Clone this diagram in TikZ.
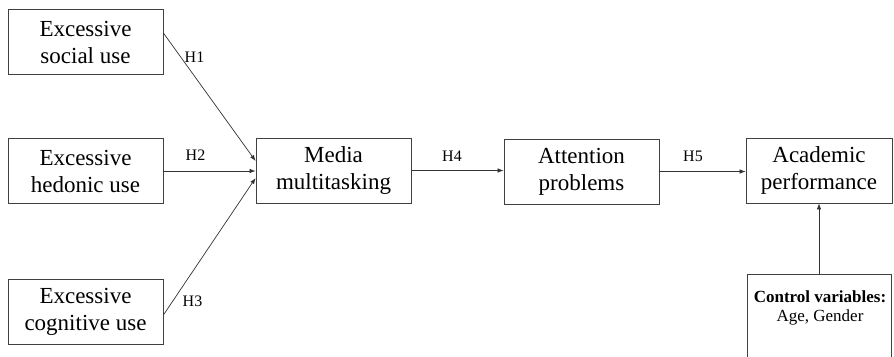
\documentclass[tikz,border=0pt]{standalone}
\usepackage{fontspec}
\setmainfont{Liberation Serif}
\usetikzlibrary{positioning,arrows.meta}

\tikzset{
  varbox/.style={draw=black!75, line width=0.8pt, minimum width=155pt, minimum height=65pt,
    align=center, inner sep=2pt, font=\fontsize{23}{27}\selectfont},
  hyplabel/.style={font=\fontsize{16}{18}\selectfont, inner sep=0pt},
  link/.style={draw=black!80, line width=0.7pt, -{Latex[length=6pt,width=4.5pt]}},
}

\begin{document}
\begin{tikzpicture}[x=1pt, y=-1pt]

    % frame of the page, boxes on the right run off it
    \useasboundingbox (0,0) rectangle (894,356);
    \clip (0,0) rectangle (894,356);

    % =========================================================================
    % Predictors
    % =========================================================================
    \node[varbox] (social)    at (85.5, 42)  {Excessive\\social use};
    \node[varbox] (hedonic)   at (85.5, 171) {Excessive\\hedonic use};
    \node[varbox] (cognitive) at (85.5, 312) {Excessive\\cognitive use};

    % =========================================================================
    % Mediators and outcome
    % =========================================================================
    \node[varbox] (media)     at (333.5, 170.5) {Media\\multitasking};
    \node[varbox] (attention) at (581.5, 171.5) {Attention\\problems};
    \node[varbox, minimum width=146pt] (academic) at (819, 170.5) {Academic\\performance};

    % Control variables (box runs past the page)
    \node[draw=black!75, line width=0.8pt, anchor=north, minimum width=144pt, minimum height=100pt,
          align=center, font=\fontsize{17}{20}\selectfont]
          (control) at (819, 274) {};
    \node[inner sep=0pt, align=center, font=\fontsize{17}{20}\selectfont, anchor=north]
          (controltext) at (820, 290) {\textbf{Control variables:}\\Age, Gender};

    % =========================================================================
    % Hypothesised paths
    % =========================================================================
    \draw[link] ([yshift=9pt]social.east) -- ([yshift=9.5pt]media.west);
    \draw[link] (hedonic.east) -- (hedonic.east -| media.west);
    \draw[link] ([yshift=-3pt]cognitive.east) -- ([yshift=-7.5pt]media.west);
    \draw[link] (media.east) -- (media.east -| attention.west);
    \draw[link] (attention.east) -- (attention.east -| academic.west);
    \draw[link] (control.north) -- (control.north |- academic.south);

    % Path labels
    \node[hyplabel] (h1) at (194.5, 57)  {H1};
    \node[hyplabel] (h2) at (195.5, 155) {H2};
    \node[hyplabel] (h3) at (192.5, 301) {H3};
    \node[hyplabel] (h4) at (452, 156)   {H4};
    \node[hyplabel] (h5) at (693, 156)   {H5};

\end{tikzpicture}
\end{document}
